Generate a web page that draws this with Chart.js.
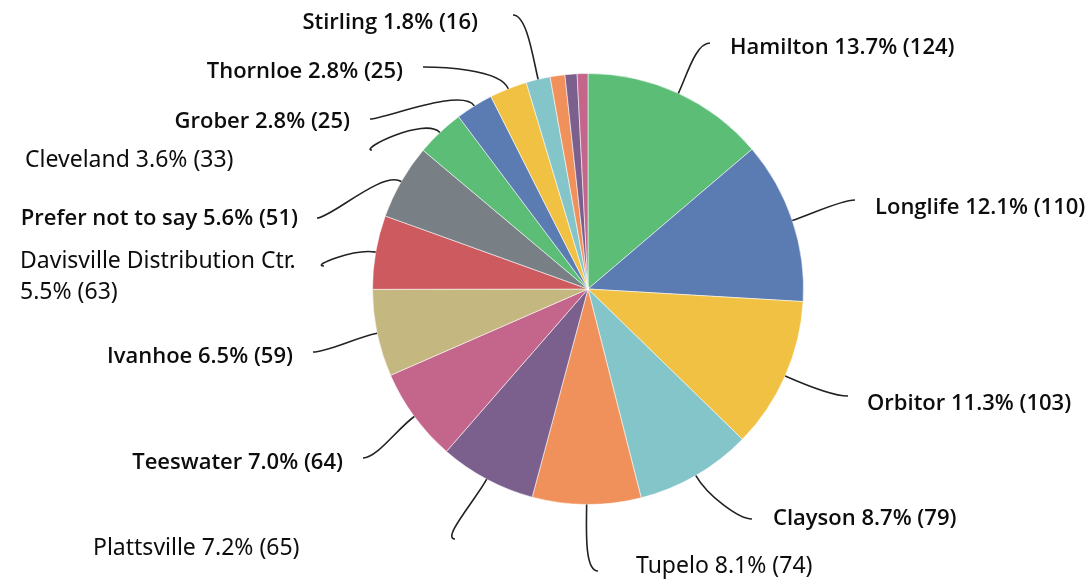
<!DOCTYPE html>
<html>
<head>
<meta charset="utf-8">
<script src="https://cdn.jsdelivr.net/npm/chart.js@4"></script>
<style>
  html, body { margin: 0; padding: 0; background: #fff; }
  canvas { display: block; }
</style>
</head>
<body>
<canvas id="pie" width="1089" height="579"></canvas>
<script>
// slices, clockwise from 12 o'clock
const names = ['Hamilton', 'Longlife', 'Orbitor', 'Clayson', 'Tupelo', 'Plattsville', 'Teeswater',
  'Ivanhoe', 'Davisville Distribution Ctr.', 'Prefer not to say', 'Cleveland', 'Grober', 'Thornloe',
  'Stirling', '', '', ''];
const shares = [13.7, 12.1, 11.3, 8.7, 8.1, 7.2, 7.0, 6.5, 5.5, 5.6, 3.6, 2.8, 2.8, 1.8, 1.1, 0.9, 0.8];
const counts = [124, 110, 103, 79, 74, 65, 64, 59, 63, 51, 33, 25, 25, 16, null, null, null];

const palette = ['#5bbd76', '#5a7cb2', '#f0c143', '#84c5ca', '#f0915c', '#7b5f8d', '#c4658c',
  '#c4b880', '#cc5a5e', '#787f85'];

// label placement: leader end point, text anchor, alignment, weight
const labelLayout = [
  { end: [710, 43], x: 730, y: 48, align: 'left', bold: true },
  { end: [855, 200], x: 875, y: 208, align: 'left', bold: true },
  { end: [848, 396], x: 867, y: 404, align: 'left', bold: true },
  { end: [752, 519], x: 773, y: 519, align: 'left', bold: true },
  { end: [598, 571], x: 636, y: 566, align: 'left', bold: false },
  { end: [455, 539], x: 93, y: 548, align: 'left', bold: false },
  { end: [363, 458], x: 343, y: 463, align: 'right', bold: true },
  { end: [313, 352], x: 293, y: 357, align: 'right', bold: true },
  { end: [324, 266], x: 20, y: 261, align: 'left', bold: false, wrap: true },
  { end: [317, 218], x: 298, y: 219, align: 'right', bold: true },
  { end: [372, 150], x: 25, y: 160, align: 'left', bold: false },
  { end: [370, 119], x: 350, y: 122, align: 'right', bold: true },
  { end: [423, 67], x: 403, y: 72, align: 'right', bold: true },
  { end: [513, 15], x: 478, y: 23, align: 'right', bold: true }
];

const leaderLabels = {
  id: 'leaderLabels',
  afterDatasetsDraw(chart) {
    const ctx = chart.ctx;
    const arcs = chart.getDatasetMeta(0).data;
    ctx.save();
    labelLayout.forEach((lay, i) => {
      const a = arcs[i].getProps(['x', 'y', 'startAngle', 'endAngle', 'outerRadius'], true);
      const mid = (a.startAngle + a.endAngle) / 2;
      const sx = a.x + Math.cos(mid) * a.outerRadius;
      const sy = a.y + Math.sin(mid) * a.outerRadius;
      const [ex, ey] = lay.end;
      const dir = lay.align === 'left' ? 1 : -1;
      ctx.beginPath();
      ctx.moveTo(sx, sy);
      ctx.bezierCurveTo(sx + Math.cos(mid) * 22, sy + Math.sin(mid) * 22,
        ex - dir * 14, ey, ex, ey);
      ctx.strokeStyle = '#222';
      ctx.lineWidth = 1.6;
      ctx.stroke();

      const pct = shares[i].toFixed(1) + '%';
      const cnt = '(' + counts[i] + ')';
      ctx.fillStyle = '#0d0d0d';
      ctx.textAlign = lay.align;
      ctx.textBaseline = 'middle';
      ctx.font = lay.bold ? '600 22px "Open Sans", sans-serif' : '23px "Noto Sans", sans-serif';
      if (lay.wrap) {
        ctx.fillText(names[i], lay.x, lay.y);
        ctx.fillText(pct + ' ' + cnt, lay.x, lay.y + 31);
      } else {
        ctx.fillText(names[i] + ' ' + pct + ' ' + cnt, lay.x, lay.y);
      }
    });
    ctx.restore();
  }
};

new Chart(document.getElementById('pie'), {
  type: 'pie',
  data: {
    labels: names,
    datasets: [{
      data: shares,
      backgroundColor: shares.map((_, i) => palette[i % palette.length]),
      borderColor: 'rgba(255,255,255,0.55)',
      borderWidth: 1
    }]
  },
  options: {
    responsive: false,
    animation: false,
    layout: { padding: { left: 372, right: 285, top: 73, bottom: 74 } },
    plugins: {
      legend: { display: false },
      tooltip: { enabled: false }
    }
  },
  plugins: [leaderLabels]
});
</script>
</body>
</html>
